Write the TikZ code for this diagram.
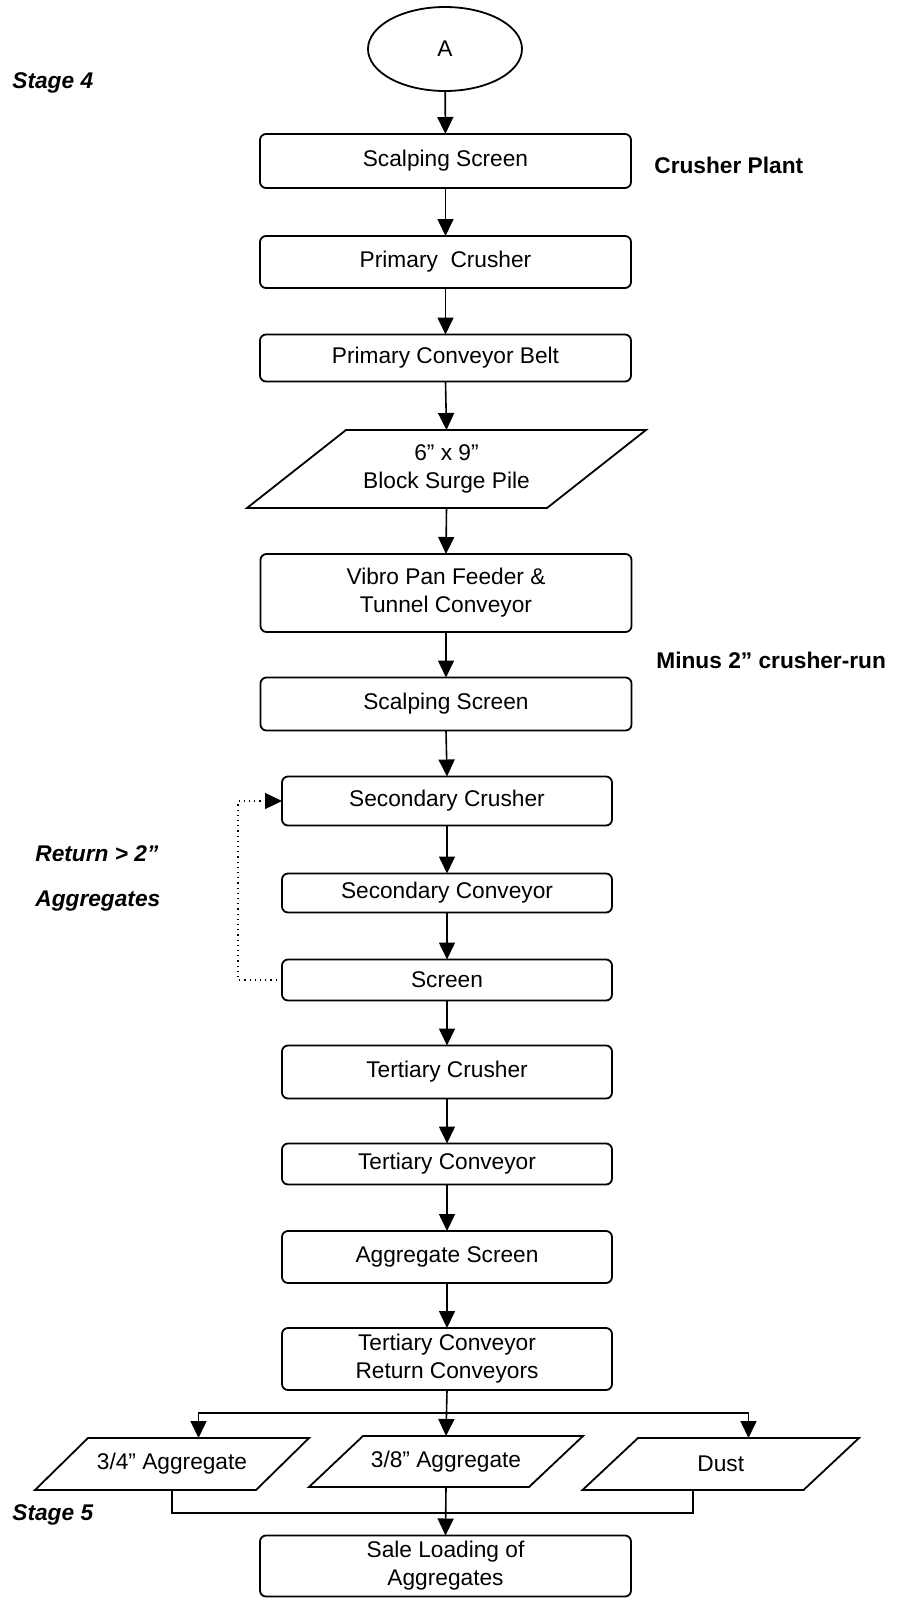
\documentclass[tikz,border=0pt]{standalone}
\usepackage{fontspec}
\setmainfont{Liberation Sans}
\usetikzlibrary{arrows.meta,shapes.geometric,calc}

% parallelogram frame around an invisible rectangular node (#2 = half of the slant)
\newcommand{\paraframe}[2]{%
  \draw[frame] ([xshift=#2]#1.north west) -- ([xshift=#2]#1.north east)
    -- ([xshift=-#2]#1.south east) -- ([xshift=-#2]#1.south west) -- cycle;}

\begin{document}
\begin{tikzpicture}[x=0.5pt,y=-0.5pt,
  font=\fontsize{11.35}{14}\selectfont,
  frame/.style={line width=0.9pt},
  box/.style={draw, line width=0.9pt, rounded corners=3pt, inner sep=0pt, outer sep=0pt,
    align=center, minimum width=185.5pt},
  lbox/.style={box, minimum width=165pt},
  para/.style={draw=none, inner sep=0pt, outer sep=0pt, align=center},
  arr/.style={line width=0.8pt, -{Triangle[length=8.5pt,width=8pt]}},
  link/.style={line width=0.8pt},
  loop/.style={line width=0.6pt, dotted, -{Triangle[length=8.5pt,width=8pt]}},
  tag/.style={font=\fontsize{11.35}{14}\selectfont\bfseries, anchor=west, inner sep=0pt},
  itag/.style={tag, font=\fontsize{11.35}{14}\selectfont\bfseries\itshape}]

\useasboundingbox (0,0) rectangle (903,1600);

% main column
\node[draw, ellipse, line width=0.9pt, inner sep=0pt, outer sep=0pt,
      minimum width=77pt, minimum height=42pt] (A) at (445,49) {A};
\node[box, minimum height=27pt]   (s1)  at (445.5,161) {Scalping Screen};
\node[box, minimum height=26pt]   (pc)  at (445.5,262) {Primary~ Crusher};
\node[box, minimum height=23.5pt] (pcb) at (445.5,358) {Primary Conveyor Belt};
\node[para, minimum width=150pt, minimum height=39pt] (bsp) at (446.5,469) {6” x 9”\\Block Surge Pile};
\paraframe{bsp}{24.75pt}
\node[box, minimum height=39pt]   (vpf) at (446,593) {Vibro Pan Feeder \&\\Tunnel Conveyor};
\node[box, minimum height=26.5pt] (s2)  at (446,704) {Scalping Screen};
\node[lbox, minimum height=24.5pt] (sc)  at (447,801)  {Secondary Crusher};
\node[lbox, minimum height=19.5pt] (sco) at (447,893)  {Secondary Conveyor};
\node[lbox, minimum height=20.5pt] (scr) at (447,980)  {Screen};
\node[lbox, minimum height=26.5pt] (tc)  at (447,1072) {Tertiary Crusher};
\node[lbox, minimum height=20.5pt] (tco) at (447,1164) {Tertiary Conveyor};
\node[lbox, minimum height=26pt]   (ags) at (447,1257) {Aggregate Screen};
\node[lbox, minimum height=31pt]   (tcr) at (447,1359) {Tertiary Conveyor\\Return Conveyors};

% products
\node[para, minimum width=110.5pt, minimum height=26pt]  (p34)  at (172,1464)    {3/4” Aggregate};
\paraframe{p34}{13.25pt}
\node[para, minimum width=110pt, minimum height=25.5pt]  (p38)  at (446,1461.5)  {3/8” Aggregate};
\paraframe{p38}{13.5pt}
\node[para, minimum width=110.5pt, minimum height=26pt]  (dust) at (720.75,1464) {Dust};
\paraframe{dust}{13.875pt}
\node[box, minimum height=30.5pt] (sale) at (445.5,1566) {Sale Loading of\\Aggregates};

% flow
\draw[arr] (A) -- (s1);
\draw[arr] (s1) -- (pc);
\draw[arr] (pc) -- (pcb);
\draw[arr] (pcb.south) -- (bsp.north);
\draw[arr] (bsp.south) -- (vpf.north);
\draw[arr] (vpf) -- (s2);
\draw[arr] (s2.south) -- (sc.north);
\draw[arr] (sc) -- (sco);
\draw[arr] (sco) -- (scr);
\draw[arr] (scr) -- (tc);
\draw[arr] (tc) -- (tco);
\draw[arr] (tco) -- (ags);
\draw[arr] (ags) -- (tcr);

% return loop
\draw[loop] (scr.west) -- ++(-44,0) |- (sc.west);

% split to products
\coordinate (br) at ($(tcr.south)!.5!(p38.north)$);
\coordinate (t34) at ([xshift=13.25pt]p34.north);
\coordinate (tdust) at ([xshift=13.875pt]dust.north);
\draw[arr] (tcr.south) -- (p38.north);
\draw[arr] (br) -| (t34);
\draw[arr] (br) -| (tdust);

% merge to loading
\coordinate (mg) at ($(p38.south)!.53!(sale.north)$);
\coordinate (bdust) at ([xshift=-13.875pt]dust.south);
\draw[link] (p34.south) |- (mg) -| (bdust);
\draw[arr] (p38.south) -- (sale.north);

% side labels
\node[itag] (st4) at (12,83) {Stage 4};
\node[tag] (cp) at (654,165) {Crusher Plant};
\node[tag] (m2) at (656,660) {Minus 2” crusher-run};
\node[itag] (ret) at (35,854) {Return > 2”};
\node[itag] (agg) at (35,901) {Aggregates};
\node[itag] (st5) at (12,1515) {Stage 5};
\end{tikzpicture}
\end{document}
